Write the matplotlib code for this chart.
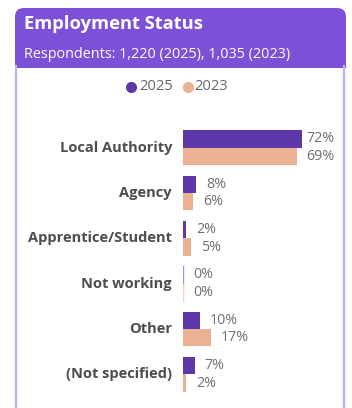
import matplotlib
matplotlib.use("Agg")
import matplotlib.pyplot as plt
from matplotlib.patches import FancyBboxPatch, Rectangle
from matplotlib.lines import Line2D

categories = ["Local Authority", "Agency", "Apprentice/Student",
              "Not working", "Other", "(Not specified)"]
pct_2025 = [72, 8, 2, 0, 10, 7]
pct_2023 = [69, 6, 5, 0, 17, 2]
series_names = ["2025", "2023"]

title = "Employment Status"
subtitle = "Respondents: 1,220 (2025), 1,035 (2023)"

W, H = 352, 408
PURPLE_HEAD = "#7d50d8"
PURPLE_BAR = "#5d38a8"
PEACH = "#ebb193"
BORDER = "#c4aef0"

plt.rcParams["font.family"] = ["Open Sans", "DejaVu Sans"]

fig = plt.figure(figsize=(W / 100, H / 100), dpi=100)
fig.patch.set_facecolor("white")


def fx(px):
    return px / W


def fy(py):
    return 1 - py / H


# card header with rounded top corners
head = FancyBboxPatch((fx(15), fy(68)), fx(331), fy(8) - fy(68),
                      boxstyle="round,pad=0,rounding_size=0.025",
                      transform=fig.transFigure, facecolor=PURPLE_HEAD,
                      edgecolor="none", mutation_aspect=W / H)
fig.patches.append(head)
fig.patches.append(Rectangle((fx(15), fy(68)), fx(331), fy(40) - fy(68),
                             transform=fig.transFigure,
                             facecolor=PURPLE_HEAD, edgecolor="none"))
for xb in (16, 344):
    fig.lines.append(Line2D([fx(xb), fx(xb)], [fy(66), 0],
                            transform=fig.transFigure, color=BORDER, lw=1.6))

fig.text(fx(24), fy(24), title, color="white", fontsize=13.2,
         fontweight="bold", va="center", ha="left")
fig.text(fx(24), fy(55), subtitle, color="white", fontsize=10.4,
         va="center", ha="left")

# legend
for cx, tx, name, col in [(131, 139, series_names[0], PURPLE_BAR),
                          (188, 194, series_names[1], PEACH)]:
    fig.lines.append(Line2D([fx(cx)], [fy(87)], transform=fig.transFigure,
                            marker="o", ms=8, color=col, mec="none"))
    fig.text(fx(tx), fy(87), name, color="#666666", fontsize=10.6,
             va="center", ha="left")

# bar area
scale = 1.65  # px per percent
ax_left, ax_top, ax_bottom, ax_w = 183, 125, 397, 155
ax = fig.add_axes([fx(ax_left), fy(ax_bottom), fx(ax_w),
                   (ax_bottom - ax_top) / H])
ax.set_xlim(0, ax_w / scale)
ax.set_ylim(len(categories), 0)
ax.axis("off")

bh = 0.386
ys = [i + 0.5 for i in range(len(categories))]
ax.barh([y - bh / 2 for y in ys], pct_2025, height=bh, color=PURPLE_BAR,
        linewidth=0)
ax.barh([y + bh / 2 for y in ys], pct_2023, height=bh, color=PEACH,
        linewidth=0)
# zero-value bars still show as a hairline
for y, v in zip(ys, pct_2025):
    if v == 0:
        ax.plot([0.3, 0.3], [y - bh, y], color="#a98be0", lw=1)
for y, v in zip(ys, pct_2023):
    if v == 0:
        ax.plot([0.3, 0.3], [y, y + bh], color="#f3d2c2", lw=1)

label_max = (306 - ax_left) / scale
for y, cat, a, b in zip(ys, categories, pct_2025, pct_2023):
    ax.text(min(a + 6, label_max), y - bh / 2, f"{a}%", color="#707070",
            fontsize=10.3, va="center", ha="left")
    ax.text(min(b + 6, label_max), y + bh / 2, f"{b}%", color="#707070",
            fontsize=10.3, va="center", ha="left")
    ax.text(-11 / scale, y, cat, color="#4d4d4d",
            fontsize=10.5, fontweight="bold", va="center", ha="right")

fig.savefig("out.png", dpi=100)
